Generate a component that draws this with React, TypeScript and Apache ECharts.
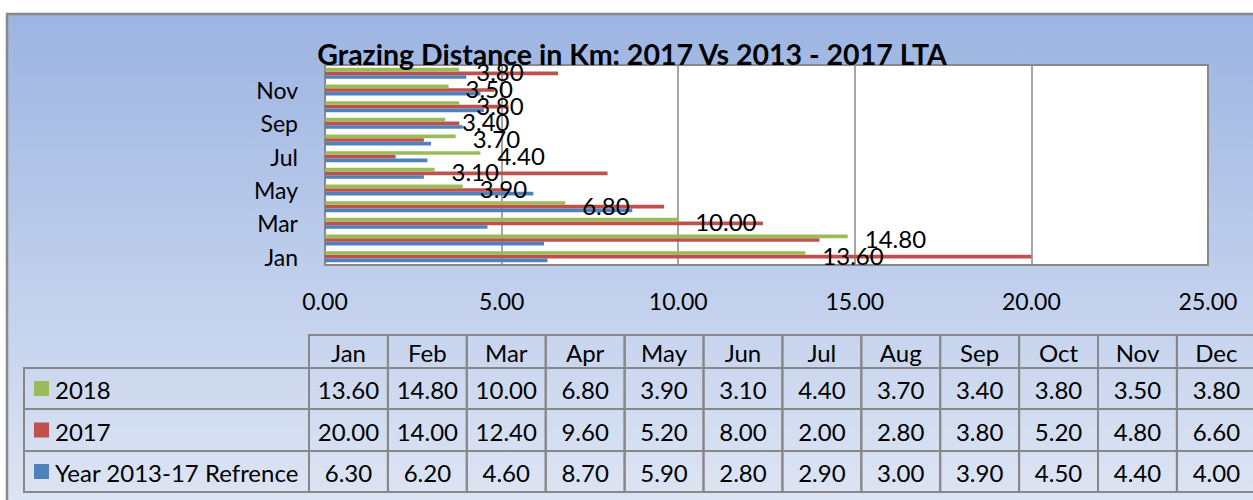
import React, { useEffect, useRef } from "react";
import * as echarts from "echarts";

const months = ["Jan", "Feb", "Mar", "Apr", "May", "Jun", "Jul", "Aug", "Sep", "Oct", "Nov", "Dec"];
const s2018 = [13.6, 14.8, 10.0, 6.8, 3.9, 3.1, 4.4, 3.7, 3.4, 3.8, 3.5, 3.8];
const s2017 = [20.0, 14.0, 12.4, 9.6, 5.2, 8.0, 2.0, 2.8, 3.8, 5.2, 4.8, 6.6];
const sRef = [6.3, 6.2, 4.6, 8.7, 5.9, 2.8, 2.9, 3.0, 3.9, 4.5, 4.4, 4.0];
const seriesNames = ["2018", "2017", "Year 2013-17 Refrence"];
const colors = { g: "#9BBB59", r: "#C0504D", b: "#4F81BD" };
const titleText = "Grazing Distance in Km: 2017 Vs 2013 - 2017 LTA";

const FONT = "Lato";

export default function App() {
  const ref = useRef<HTMLDivElement>(null);
  useEffect(() => {
    document.body.style.margin = "0";
    const chart = echarts.init(ref.current!, null, { renderer: "svg" });

    const tableRows = [
      { name: seriesNames[0], color: colors.g, vals: s2018 },
      { name: seriesNames[1], color: colors.r, vals: s2017 },
      { name: seriesNames[2], color: colors.b, vals: sRef },
    ];
    const colX0 = 309;
    const colW = 78.9;
    const labelX0 = 24;
    const rowYs = [335, 368, 409, 451, 492];
    const lineColor = "#888888";
    const TFS = 24;
    const g: any[] = [];
    months.forEach((m, i) => {
      g.push({
        type: "rect",
        shape: { x: colX0 + i * colW, y: rowYs[0], width: colW, height: rowYs[1] - rowYs[0] },
        style: { fill: "none", stroke: lineColor, lineWidth: 2 },
        z: 50,
      });
      g.push({
        type: "text",
        x: colX0 + i * colW + colW / 2,
        y: (rowYs[0] + rowYs[1]) / 2 + 1,
        style: { text: m, fontSize: TFS, fontFamily: FONT, fill: "#000", align: "center", verticalAlign: "middle" },
        z: 51,
      });
    });
    tableRows.forEach((r, ri) => {
      const y0 = rowYs[ri + 1];
      const y1 = rowYs[ri + 2];
      g.push({
        type: "rect",
        shape: { x: labelX0, y: y0, width: colX0 - labelX0, height: y1 - y0 },
        style: { fill: "none", stroke: lineColor, lineWidth: 2 },
        z: 50,
      });
      g.push({
        type: "rect",
        shape: { x: 34, y: (y0 + y1) / 2 - 7.5, width: 15, height: 15 },
        style: { fill: r.color },
        z: 51,
      });
      g.push({
        type: "text",
        x: 55,
        y: (y0 + y1) / 2 + 1,
        style: { text: r.name, fontSize: TFS, fontFamily: FONT, fill: "#000", align: "left", verticalAlign: "middle" },
        z: 51,
      });
      r.vals.forEach((v, i) => {
        g.push({
          type: "rect",
          shape: { x: colX0 + i * colW, y: y0, width: colW, height: y1 - y0 },
          style: { fill: "none", stroke: lineColor, lineWidth: 2 },
          z: 50,
        });
        g.push({
          type: "text",
          x: colX0 + i * colW + colW / 2,
          y: (y0 + y1) / 2 + 1,
          style: { text: v.toFixed(2), fontSize: TFS, fontFamily: FONT, fill: "#000", align: "center", verticalAlign: "middle" },
          z: 51,
        });
      });
    });

    const barCommon = { type: "bar", barGap: "0%", barCategoryGap: "34%" };

    chart.setOption({
      animation: false,
      textStyle: { fontFamily: FONT },
      graphic: [
        {
          type: "rect",
          shape: { x: 7, y: 14, width: 1260, height: 500 },
          style: {
            fill: new echarts.graphic.LinearGradient(0, 0, 0, 1, [
              { offset: 0, color: "#9CB4E2" },
              { offset: 1, color: "#DFE6F4" },
            ]),
            stroke: "#888888",
            lineWidth: 2.5,
          },
          z: -10,
          silent: true,
        },
        {
          type: "text",
          x: 632,
          y: 54,
          style: {
            text: titleText,
            fontSize: 28.5,
            fontWeight: "bold",
            fontFamily: FONT,
            fill: "#000",
            align: "center",
            verticalAlign: "middle",
          },
          z: 100,
        },
        ...g,
      ],
      grid: {
        left: 325,
        right: 45,
        top: 65,
        bottom: 235,
        show: true,
        backgroundColor: "#ffffff",
        borderColor: "#888888",
        borderWidth: 2,
      },
      xAxis: {
        type: "value",
        min: 0,
        max: 25,
        interval: 5,
        axisLine: { show: true, lineStyle: { color: "#888888", width: 2 } },
        axisTick: { show: false },
        splitLine: { show: true, lineStyle: { color: "#888888", width: 1.5 } },
        axisLabel: {
          formatter: (v: number) => v.toFixed(2),
          fontSize: 23,
          color: "#000",
          margin: 24,
          fontFamily: FONT,
        },
      },
      yAxis: {
        type: "category",
        data: months,
        axisLine: { show: true, lineStyle: { color: "#888888", width: 2 } },
        axisTick: { show: false },
        axisLabel: { interval: 1, fontSize: 23, color: "#000", margin: 27, fontFamily: FONT },
      },
      series: [
        {
          ...barCommon,
          name: seriesNames[0],
          data: s2018,
          itemStyle: { color: colors.g },
          label: {
            show: true,
            position: "right",
            distance: 17,
            offset: [0, 2],
            fontSize: 24,
            color: "#000",
            fontFamily: FONT,
            formatter: (p: any) => Number(p.value).toFixed(2),
          },
          z: 5,
        },
        {
          ...barCommon,
          name: seriesNames[1],
          data: s2017,
          itemStyle: { color: colors.r },
        },
        {
          ...barCommon,
          name: seriesNames[2],
          data: sRef,
          itemStyle: { color: colors.b },
        },
      ],
    });
    return () => chart.dispose();
  }, []);
  return <div ref={ref} style={{ width: 1253, height: 500 }} />;
}
